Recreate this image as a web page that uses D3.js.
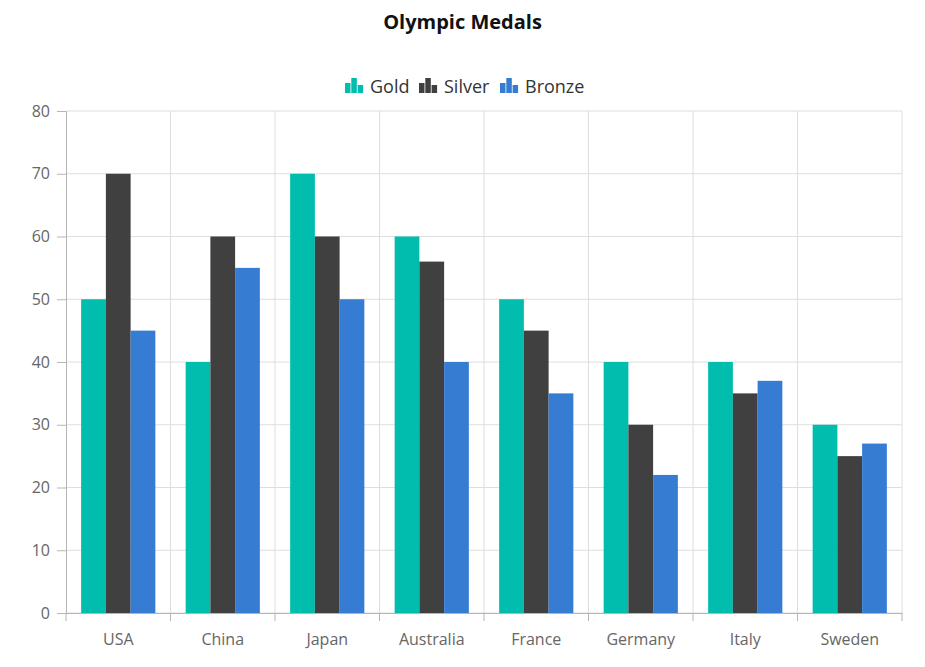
<!DOCTYPE html>
<html>
<head>
<meta charset="UTF-8">
<script src="https://d3js.org/d3.v7.min.js"></script>
<style>
  body { margin: 0; background: #fff; }
  svg text { font-family: "Segoe UI", "Open Sans", "Noto Sans", sans-serif; }
</style>
</head>
<body>
<svg id="chart" width="925" height="667"></svg>
<script>
const countries = ["USA", "China", "Japan", "Australia", "France", "Germany", "Italy", "Sweden"];
const gold   = [50, 40, 70, 60, 50, 40, 40, 30];
const silver = [70, 60, 60, 56, 45, 30, 35, 25];
const bronze = [45, 55, 50, 40, 35, 22, 37, 27];
const seriesNames = ["Gold", "Silver", "Bronze"];
const yTicks = [0, 10, 20, 30, 40, 50, 60, 70, 80];

const colors = ["#00bdae", "#404041", "#357cd2"];
const series = [gold, silver, bronze];

const svg = d3.select("#chart");
const margin = { left: 66, right: 23, top: 111, bottom: 54 };
const width = 925, height = 667;

const x = d3.scaleBand().domain(countries).range([margin.left, width - margin.right]);
const y = d3.scaleLinear().domain([0, 80]).range([height - margin.bottom, margin.top]);
const bw = x.bandwidth();
const xInner = d3.scaleBand().domain(seriesNames).range([bw * 0.145, bw * 0.855]);

// title
svg.append("text")
  .attr("x", width / 2).attr("y", 29)
  .attr("text-anchor", "middle")
  .attr("font-size", 20).attr("font-weight", "bold").attr("fill", "#111")
  .text("Olympic Medals");

// horizontal gridlines
svg.append("g").selectAll("line").data(yTicks).join("line")
  .attr("x1", margin.left).attr("x2", width - margin.right)
  .attr("y1", d => y(d)).attr("y2", d => y(d))
  .attr("stroke", "#dedede");

// vertical gridlines at band boundaries
const bounds = countries.map(c => x(c)).concat([width - margin.right]);
svg.append("g").selectAll("line").data(bounds.slice(1)).join("line")
  .attr("x1", d => d).attr("x2", d => d)
  .attr("y1", margin.top).attr("y2", y(0))
  .attr("stroke", "#dedede");

// bars
series.forEach((vals, i) => {
  svg.append("g").selectAll("rect").data(vals).join("rect")
    .attr("x", (d, j) => x(countries[j]) + xInner(seriesNames[i]))
    .attr("width", xInner.bandwidth())
    .attr("y", d => y(d))
    .attr("height", d => y(0) - y(d))
    .attr("fill", colors[i]);
});

// y axis
const yAxis = svg.append("g")
  .attr("transform", `translate(${margin.left},0)`)
  .call(d3.axisLeft(y).tickValues(yTicks).tickSize(9).tickPadding(7));
yAxis.select(".domain").attr("stroke", "#b5b5b5");
yAxis.selectAll(".tick line").attr("stroke", "#b5b5b5");
yAxis.selectAll("text").attr("font-size", 16).attr("fill", "#666");

// x axis
const xAxis = svg.append("g")
  .attr("transform", `translate(0,${y(0)})`)
  .call(d3.axisBottom(x).tickSize(0).tickPadding(21));
xAxis.select(".domain").attr("stroke", "#b5b5b5");
xAxis.selectAll("text").attr("font-size", 16).attr("fill", "#666");
xAxis.append("g").selectAll("line").data(bounds).join("line")
  .attr("x1", d => d).attr("x2", d => d)
  .attr("y1", 0).attr("y2", 8)
  .attr("stroke", "#b5b5b5");

// legend
const legendPos = [345, 419, 500];
const legend = svg.append("g");
seriesNames.forEach((name, i) => {
  const g = legend.append("g").attr("transform", `translate(${legendPos[i]},78)`);
  [[0, 5, 10], [6.3, 0, 15], [12.6, 7, 8]].forEach(([bx, by, bh]) => {
    g.append("rect").attr("x", bx).attr("y", by).attr("width", 5.5).attr("height", bh).attr("fill", colors[i]);
  });
  g.append("text").attr("x", 25).attr("y", 15)
    .attr("font-size", 18).attr("fill", "#333").text(name);
});
</script>
</body>
</html>
